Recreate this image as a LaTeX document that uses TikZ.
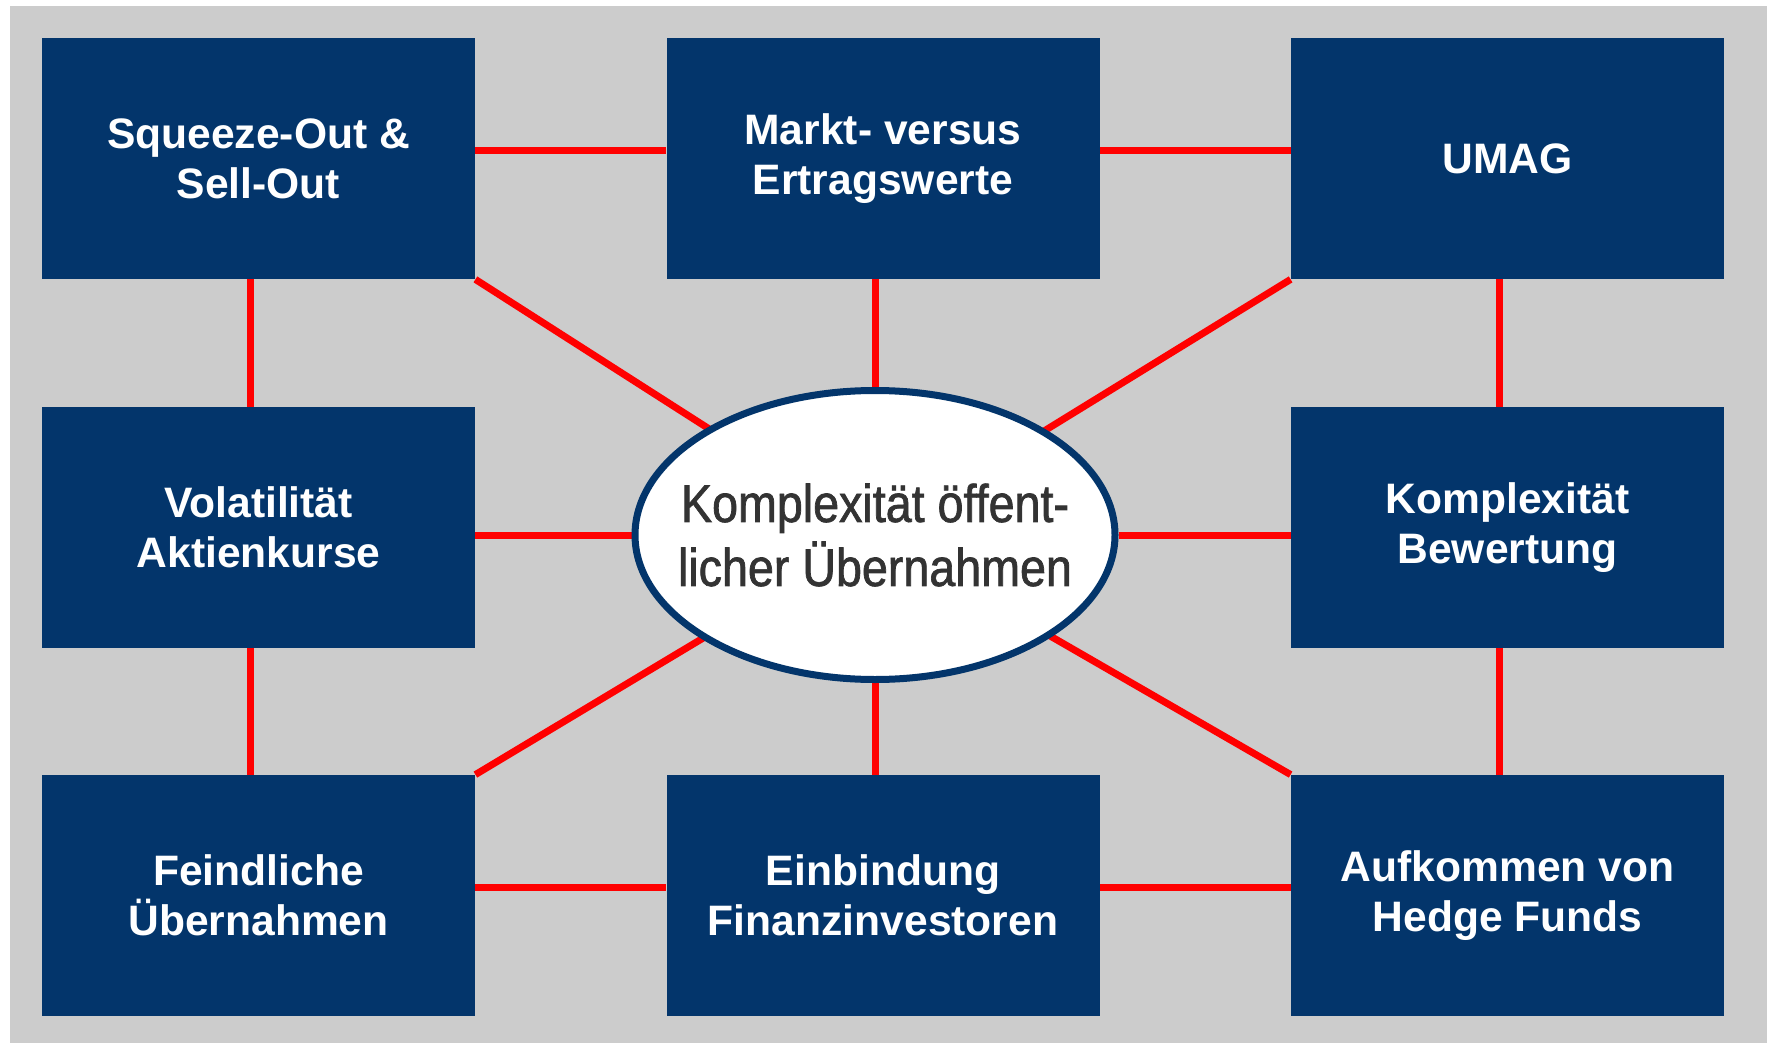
\documentclass[tikz,border=0pt]{standalone}
\usepackage{fontspec}
\setmainfont{Liberation Sans}
\newfontfamily\narrowfont[FakeStretch=0.88,FakeBold=1.3]{Liberation Sans}
\usetikzlibrary{shapes.geometric,backgrounds}

\definecolor{boxblue}{RGB}{3,53,107}
\definecolor{bggray}{RGB}{204,204,204}
\definecolor{hubtext}{RGB}{51,51,51}

\tikzset{
  topic/.style={fill=boxblue, text=white, align=center, inner sep=0pt,
    minimum width=216.5pt, minimum height=120.5pt,
    font=\fontsize{21.3}{25}\selectfont\bfseries},
  hub/.style={ellipse, draw=boxblue, line width=3.5pt, fill=white,
    inner xsep=-30pt, inner ysep=0pt,
    minimum width=240pt, minimum height=144.5pt, text=hubtext, align=center,
    font=\narrowfont\fontsize{26.5}{32}\selectfont},
  link/.style={draw=red, line width=3.5pt}
}

\begin{document}
\begin{tikzpicture}[x=0.5pt, y=-0.5pt]
    \useasboundingbox (0,0) rectangle (1767,1043);

    \node [topic] (squeeze) at (258.5,158.5) {Squeeze-Out \&\\Sell-Out};
    \node [topic] (markt)   at (883,158.5)   {Markt- versus\\Ertragswerte};
    \node [topic] (umag)    at (1507.5,158.5) {UMAG};
    \node [topic] (vola)    at (258.5,527.5) {Volatilität\\Aktienkurse};
    \node [topic] (bewert)  at (1507.5,527.5) {Komplexität\\Bewertung};
    \node [topic] (feind)   at (258.5,895.5) {Feindliche\\Übernahmen};
    \node [topic] (finanz)  at (883,895.5)   {Einbindung\\Finanzinvestoren};
    \node [topic] (hedge)   at (1507.5,895.5) {Aufkommen von\\Hedge Funds};
    \node [hub]   (hub)     at (875,535)     {Komplexität öffent-\\licher Übernahmen};

    \begin{pgfonlayer}{background}
    \fill [bggray] (10,6) rectangle (1767,1043);
    \path [link] ([yshift=4pt]squeeze.east) -- ([yshift=4pt]markt.west);
    \path [link] ([yshift=4pt]markt.east)   -- ([yshift=4pt]umag.west);
    \path [link] ([yshift=4pt]feind.east)   -- ([yshift=4pt]finanz.west);
    \path [link] ([yshift=4pt]finanz.east)  -- ([yshift=4pt]hedge.west);
    \path [link] ([xshift=-4pt]squeeze.south) -- ([xshift=-4pt]vola.north);
    \path [link] ([xshift=-4pt]vola.south)    -- ([xshift=-4pt]feind.north);
    \path [link] ([xshift=-4pt]umag.south)    -- ([xshift=-4pt]bewert.north);
    \path [link] ([xshift=-4pt]bewert.south)  -- ([xshift=-4pt]hedge.north);
    \path [link] (hub.west) -- (hub.west -| vola.east);
    \path [link] (hub.east) -- (hub.east -| bewert.west);
    \path [link] (hub.north) -- (hub.north |- markt.south);
    \path [link] (hub.south) -- (hub.south |- finanz.north);
    \path [link] (squeeze.south east) -- (hub.center);
    \path [link] (umag.south west)    -- (hub.center);
    \path [link] (feind.north east)   -- (hub.center);
    \path [link] (hedge.north west)   -- (hub.center);
    \end{pgfonlayer}
\end{tikzpicture}
\end{document}
